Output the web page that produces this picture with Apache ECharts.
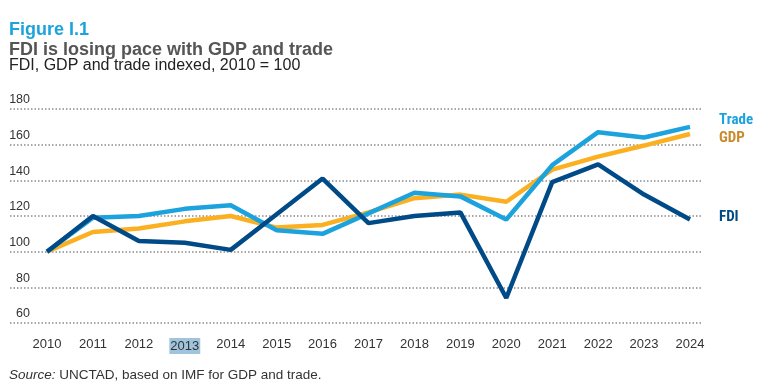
<!DOCTYPE html>
<html><head><meta charset="utf-8">
<script src="https://cdn.jsdelivr.net/npm/echarts@6/dist/echarts.min.js"></script>
<style>html,body{margin:0;padding:0;background:#fff}#c{width:775px;height:383px}</style>
</head><body><div id="c"></div>
<script>
const years = [2010,2011,2012,2013,2014,2015,2016,2017,2018,2019,2020,2021,2022,2023,2024];
const fdi   = [100,120,106,105,101,121,141,116,120,122,74,139,149,132,118];
const trade = [100,119,120,124,126,112,110,121.5,133,131,118,148.5,167,164,170];
const gdp   = [100,111,113,117,120,113.5,115,122,130,132,128,146,153.3,159.5,166];
const yTicks = [60,80,100,120,140,160,180];

const pair = arr => years.map((y,i)=>[y,arr[i]]);
const chart = echarts.init(document.getElementById('c'));
const SANS = "'Liberation Sans',Arial,sans-serif";
const NARROW = "'Liberation Sans Narrow','Arial Narrow','Roboto Condensed',sans-serif";
function endLbl(color, dy){
  return {show:true, formatter:'{a}', color:color, fontWeight:'bold', fontSize:15,
    fontFamily:NARROW, distance:29, offset:[0,dy], align:'left'};
}
function txt(x, y, text, size, weight, fill, rich){
  return {type:'text', x:x, y:y, style:{text:text, fontSize:size, fontWeight:weight, fill:fill,
    fontFamily:SANS, verticalAlign:'middle', align:'left', rich:rich}};
}
chart.setOption({
  animation:false,
  textStyle:{fontFamily:SANS},
  grid:{left:10,right:72,top:109,bottom:60,containLabel:false},
  xAxis:{type:'value', min:2009.194, max:2024.283,
    axisLine:{show:false}, axisTick:{show:false}, splitLine:{show:false},
    axisLabel:{customValues:years, margin:15, fontSize:13, color:'#333',
      formatter:v=> v===2013 ? '{h|'+v+'}' : String(v),
      rich:{h:{backgroundColor:'#9fc4dc', padding:[2,1,1,1], fontSize:13, color:'#333'}}}},
  yAxis:{type:'value', min:60, max:180, interval:20,
    axisLine:{show:false}, axisTick:{show:false},
    splitLine:{show:true, lineStyle:{type:[1.5,2], width:1.5, color:'#8a8a8a'}},
    axisLabel:{inside:true, margin:20, align:'right', verticalAlign:'bottom',
      fontSize:12.5, color:'#333', padding:[0,0,3,0], lineHeight:12}},
  series:[
    {name:'GDP', type:'line', data:pair(gdp), symbol:'none', z:2,
      lineStyle:{color:'#fbb021', width:4.5}, itemStyle:{color:'#fbb021'},
      endLabel:endLbl('#c98a2c',4)},
    {name:'Trade', type:'line', data:pair(trade), symbol:'none', z:3,
      lineStyle:{color:'#1ca3de', width:4.5}, itemStyle:{color:'#1ca3de'},
      endLabel:endLbl('#1ca3de',-6.5)},
    {name:'FDI', type:'line', data:pair(fdi), symbol:'none', z:4,
      lineStyle:{color:'#004b87', width:4.5}, itemStyle:{color:'#004b87'},
      endLabel:endLbl('#004b87',-2)}
  ],
  graphic:[
    txt(9, 30, 'Figure I.1', 18, 'bold', '#1ca3de'),
    txt(9, 50.5, 'FDI is losing pace with GDP and trade', 18, 'bold', '#555'),
    txt(9, 66, 'FDI, GDP and trade indexed, 2010 = 100', 16, 'normal', '#222'),
    txt(9, 375, '{i|Source:} UNCTAD, based on IMF for GDP and trade.', 13.5, 'normal', '#333',
      {i:{fontStyle:'italic', fontSize:13.5, fill:'#333', fontFamily:SANS}})
  ]
});
</script></body></html>
